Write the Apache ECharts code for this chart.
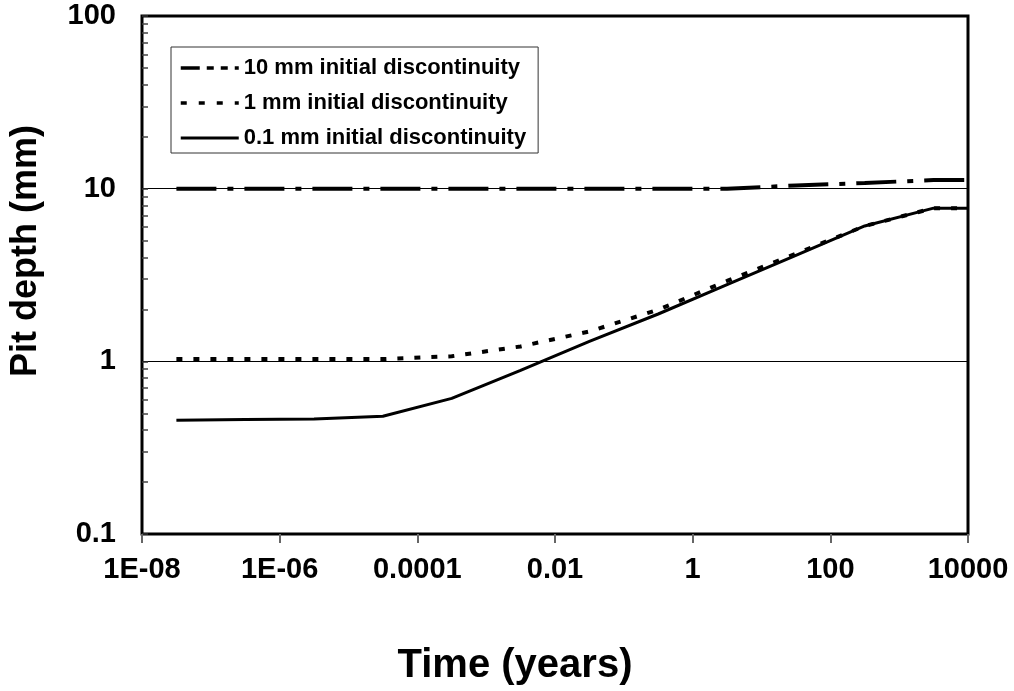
<!DOCTYPE html>
<html>
<head>
<meta charset="utf-8">
<script src="https://cdn.jsdelivr.net/npm/echarts@6/dist/echarts.min.js"></script>
<style>
html, body { margin: 0; padding: 0; background: #fff; }
#chart { width: 1014px; height: 691px; }
</style>
</head>
<body>
<div id="chart"></div>
<script>
// ---- data ----
const times = [3.16e-8, 3.16e-7, 3.16e-6, 3.16e-5, 3.16e-4, 3.16e-3, 0.0316, 0.316, 3.16, 31.6, 316, 3162, 10000];
const depth10mm = [10, 10, 10, 10, 10, 10, 10, 10, 10, 10.43, 10.79, 11.22, 11.22];
const depth1mm = [1.03, 1.03, 1.03, 1.03, 1.07, 1.22, 1.49, 1.99, 2.92, 4.2, 6.08, 7.71, 7.71];
const depth01mm = [0.456, 0.46, 0.464, 0.481, 0.61, 0.887, 1.305, 1.88, 2.78, 4.11, 6.08, 7.71, 7.71];
const seriesNames = ['10 mm initial discontinuity', '1 mm initial discontinuity', '0.1 mm initial discontinuity'];
const xTickValues = [1e-8, 1e-6, 1e-4, 1e-2, 1, 100, 10000];
const xTickLabels = ['1E-08', '1E-06', '0.0001', '0.01', '1', '100', '10000'];
const yTickValues = [0.1, 1, 10, 100];
const yTickLabels = ['0.1', '1', '10', '100'];
const yMinorTickValues = [0.2, 0.3, 0.4, 0.5, 0.6, 0.7, 0.8, 0.9, 2, 3, 4, 5, 6, 7, 8, 9, 20, 30, 40, 50, 60, 70, 80, 90];
const xTitle = 'Time (years)';
const yTitle = 'Pit depth (mm)';

function pairs(ys) { return times.map((t, i) => [t, ys[i]]); }
function labelFor(values, labels, v) {
  const lv = Math.log10(v);
  const i = values.findIndex(t => Math.abs(Math.log10(t) - lv) < 1e-6);
  return i >= 0 ? labels[i] : '';
}

const FONT = '"Liberation Sans", Arial, sans-serif';
const chart = echarts.init(document.getElementById('chart'), null, { renderer: 'canvas' });

chart.setOption({
  animation: false,
  backgroundColor: '#fff',
  grid: {
    left: 141, top: 16, right: 46, bottom: 154,
    show: true, borderColor: '#000', borderWidth: 3, backgroundColor: 'transparent'
  },
  legend: {
    orient: 'vertical',
    left: 171, top: 47,
    padding: [8, 12, 2, 8],
    itemGap: 9,
    itemWidth: 58, itemHeight: 14,
    borderColor: '#333', borderWidth: 1,
    backgroundColor: '#fff',
    itemStyle: { opacity: 0, borderWidth: 0 },
    textStyle: { color: '#000', fontFamily: FONT, fontWeight: 'bold', fontSize: 22, lineHeight: 26 },
    data: [
      { name: seriesNames[0], lineStyle: { type: [19, 7, 7, 7, 7, 7, 7, 7], width: 3.5 } },
      { name: seriesNames[1], lineStyle: { type: [6, 12], width: 3.5 } },
      { name: seriesNames[2], lineStyle: { type: 'solid', width: 3 } }
    ]
  },
  xAxis: {
    type: 'log', logBase: 10, min: 1e-8, max: 1e4,
    name: xTitle, nameLocation: 'middle', nameGap: 112,
    nameTextStyle: { color: '#000', fontFamily: FONT, fontWeight: 'bold', fontSize: 40, padding: [0, 80, 0, 0] },
    axisLine: { show: false },
    axisTick: { show: true, inside: false, length: 9, customValues: xTickValues, lineStyle: { color: '#666', width: 2 } },
    axisLabel: {
      customValues: xTickValues, margin: 21, color: '#000', fontFamily: FONT, fontWeight: 'bold', fontSize: 29,
      formatter: v => labelFor(xTickValues, xTickLabels, v)
    },
    splitLine: { show: false },
    minorTick: { show: false }
  },
  yAxis: [
    {
      type: 'log', logBase: 10, min: 0.1, max: 100,
      name: yTitle, nameLocation: 'middle', nameGap: 98, nameRotate: 90,
      nameTextStyle: { color: '#000', fontFamily: FONT, fontWeight: 'bold', fontSize: 36, padding: [0, 0, 0, 48] },
      axisLine: { show: false },
      axisTick: { show: true, inside: true, length: 6, customValues: yTickValues, lineStyle: { color: '#333', width: 1.5 } },
      axisLabel: {
        customValues: yTickValues, margin: 26, color: '#000', fontFamily: FONT, fontWeight: 'bold', fontSize: 29,
        formatter: v => labelFor(yTickValues, yTickLabels, v)
      },
      splitLine: { show: true, lineStyle: { color: '#000', width: 1 } }
    },
    {
      type: 'log', logBase: 10, min: 0.1, max: 100, position: 'left',
      axisLine: { show: false },
      axisTick: { show: true, inside: true, length: 6, customValues: yMinorTickValues, lineStyle: { color: '#444', width: 1.5 } },
      axisLabel: { show: false },
      splitLine: { show: false }
    }
  ],
  series: [
    {
      name: seriesNames[0], type: 'line', yAxisIndex: 0, data: pairs(depth10mm),
      symbol: 'none', showSymbol: false, z: 3,
      lineStyle: { color: '#000', width: 4, type: [40, 11, 6, 11], cap: 'butt' },
      itemStyle: { color: '#000' }
    },
    {
      name: seriesNames[1], type: 'line', yAxisIndex: 0, data: pairs(depth1mm),
      symbol: 'none', showSymbol: false, z: 3,
      lineStyle: { color: '#000', width: 4, type: [6, 11], cap: 'butt' },
      itemStyle: { color: '#000' }
    },
    {
      name: seriesNames[2], type: 'line', yAxisIndex: 0, data: pairs(depth01mm),
      symbol: 'none', showSymbol: false, z: 4,
      lineStyle: { color: '#000', width: 3, type: 'solid' },
      itemStyle: { color: '#000' }
    }
  ]
});
</script>
</body>
</html>
